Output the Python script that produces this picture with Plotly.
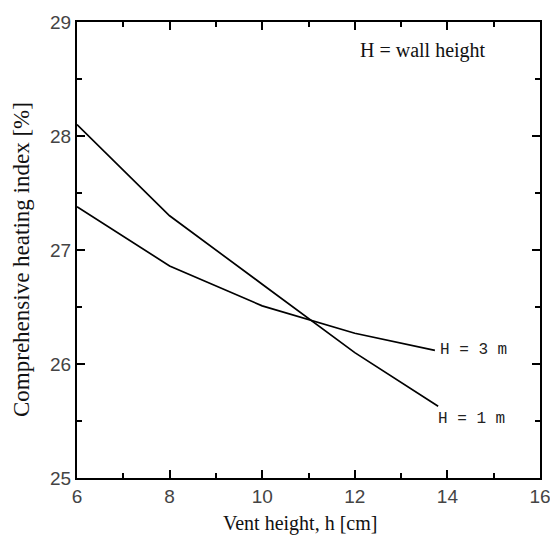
import plotly.graph_objects as go

vent_h = [6, 8, 10, 12, 13.8]
idx_1m = [28.10, 27.30, 26.70, 26.10, 25.63]
vent_h3 = [6, 8, 10, 12, 13.73]
idx_3m = [27.38, 26.86, 26.51, 26.27, 26.12]

fig = go.Figure()
fig.add_trace(go.Scatter(x=vent_h, y=idx_1m, mode="lines",
                         line=dict(color="black", width=1.7), showlegend=False))
fig.add_trace(go.Scatter(x=vent_h3, y=idx_3m, mode="lines",
                         line=dict(color="black", width=1.7), showlegend=False))

mono = dict(family="Liberation Mono, Courier New, monospace", size=16, color="#222")
fig.add_annotation(x=vent_h3[-1], y=idx_3m[-1], text="H = 3 m", showarrow=False,
                   xanchor="left", yanchor="middle", xshift=3, font=mono)
fig.add_annotation(x=vent_h[-1], y=idx_1m[-1], text="H = 1 m", showarrow=False,
                   xanchor="left", yanchor="top", xshift=-2, yshift=-2, font=mono)
fig.add_annotation(x=13.48, y=28.75, text="H = wall height", showarrow=False,
                   xanchor="center", yanchor="middle",
                   font=dict(family="Liberation Serif, Times New Roman, serif", size=20, color="#111"))

tickfont = dict(family="Liberation Sans, Arial, sans-serif", size=19, color="#444")
xtitlefont = dict(family="Liberation Serif, Times New Roman, serif", size=20, color="#111")
ytitlefont = dict(family="Liberation Serif, Times New Roman, serif", size=23, color="#111")

L, R, T, B = 77, 10, 22, 62
W, H = 550, 540
plot_w = W - L - R
plot_h = H - T - B
fig.add_annotation(x=(300 - L) / plot_w, xref="paper", y=0, yref="paper",
                   text="Vent height, h [cm]", showarrow=False, font=xtitlefont,
                   xanchor="center", yanchor="middle", yshift=-45)
fig.add_annotation(x=(21 - L) / plot_w, xref="paper", y=(H - B - 260) / plot_h, yref="paper",
                   text="Comprehensive heating index [%]", showarrow=False, font=ytitlefont,
                   textangle=-90, xanchor="center", yanchor="middle")

fig.update_xaxes(range=[6, 16], dtick=2, tick0=6, ticks="inside", ticklen=8, tickwidth=1.5,
                 tickcolor="black", showline=True, linecolor="black", linewidth=2,
                 mirror="allticks", showgrid=False, zeroline=False, tickfont=tickfont,
                 ticklabeloverflow="allow", automargin=False,
                 minor=dict(dtick=1, ticks="inside", ticklen=5, tickwidth=1.5, tickcolor="black", showgrid=False))
fig.update_yaxes(range=[25, 29], dtick=1, tick0=25, ticks="inside", ticklen=8, tickwidth=1.5,
                 tickcolor="black", showline=True, linecolor="black", linewidth=2,
                 mirror="allticks", showgrid=False, zeroline=False, tickfont=tickfont,
                 ticklabeloverflow="allow", automargin=False,
                 minor=dict(dtick=0.5, ticks="inside", ticklen=5, tickwidth=1.5, tickcolor="black", showgrid=False))

fig.update_layout(width=W, height=H, margin=dict(l=L, r=R, t=T, b=B),
                  plot_bgcolor="white", paper_bgcolor="white")
fig.write_html("out.html")
